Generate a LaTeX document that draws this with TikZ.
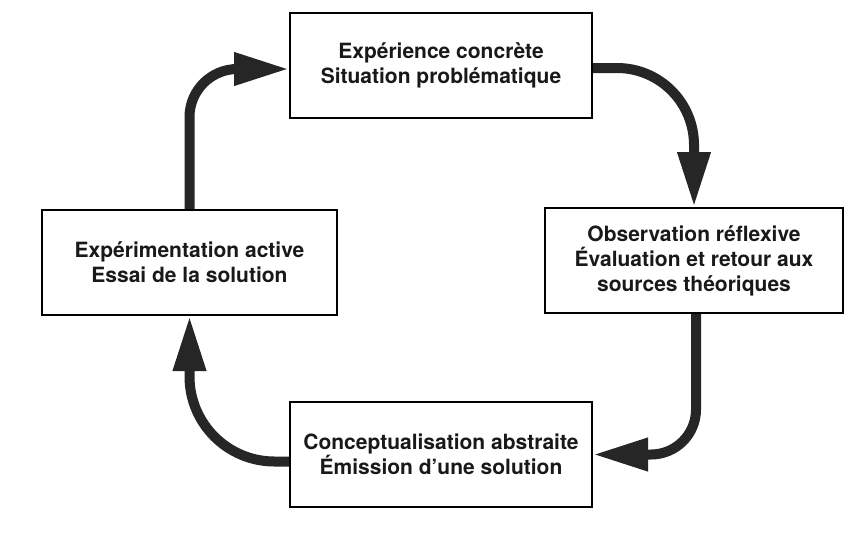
\documentclass[tikz,border=0pt]{standalone}
\usepackage{fontspec}
\setmainfont{TeX Gyre Heros}
\usetikzlibrary{positioning}
\usetikzlibrary{arrows.meta}
\tikzstyle{stage} = [rectangle, draw=black, line width=2pt,
fill=white, align=center, inner sep=0pt, text=black!90,
minimum height=105pt,
font=\bfseries\fontsize{21}{25}\selectfont]
\tikzstyle{arrow} = [line width=10pt, draw=black!85,
-{Triangle[length=55pt,width=31pt]}]

\begin{document}
\begin{tikzpicture}[x=1pt, y=-1pt] % pixel grid of the scan
    \useasboundingbox[fill=white] (0,0) rectangle (845,544);
    % the four stages of the cycle
    \node[stage, minimum width=302pt] (concrete) at (441,65) {Expérience concrète\\Situation problématique};
    \node[stage, minimum width=298pt] (reflexive) at (694,260.5) {Observation réflexive\\Évaluation et retour aux\\sources théoriques};
    \node[stage, minimum width=302pt] (abstract) at (441,454.5) {Conceptualisation abstraite\\Émission d'une solution};
    \node[stage, minimum width=295pt] (active) at (189.5,262.5) {Expérimentation active\\Essai de la solution};
    % curved arrows between the stages
    \draw[arrow, rounded corners=48pt] (active.north) |- ([yshift=-4pt]concrete.west);
    \draw[arrow, rounded corners=77pt] ([yshift=-3pt]concrete.east) -| (reflexive.north);
    \draw[arrow, rounded corners=45pt] ([xshift=2pt]reflexive.south) |- (abstract.east);
    \draw[arrow, rounded corners=85pt] ([yshift=-7pt]abstract.west) -| (active.south);
\end{tikzpicture}
\end{document}
